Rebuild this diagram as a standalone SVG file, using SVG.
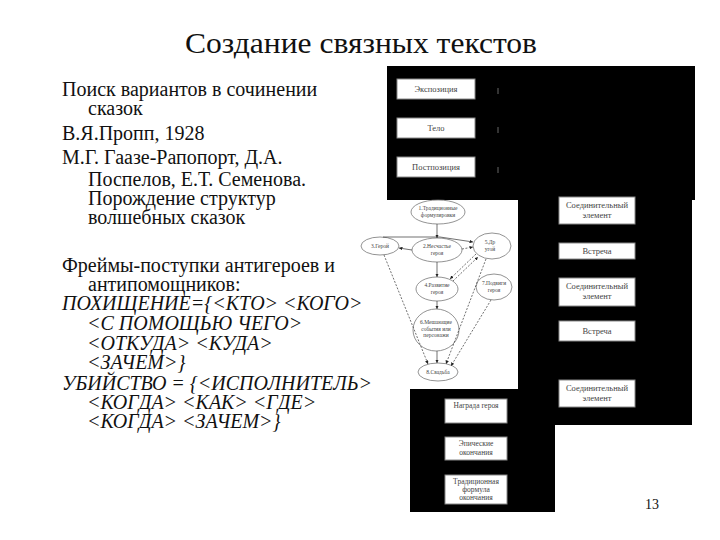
<svg xmlns="http://www.w3.org/2000/svg" width="720" height="540" viewBox="0 0 720 540">
<defs>
<style>
.t{font-family:"Liberation Serif",Tinos,"Times New Roman","DejaVu Serif",serif;fill:#111}
.title{font-size:30px}
.body{font-size:20px}
.it{font-size:20px;font-style:italic}
.blk{fill:#000}
.box{fill:#fff;stroke:#888;stroke-width:1}
.bt{font-family:"Liberation Serif",Tinos,"Times New Roman","DejaVu Serif",serif;font-size:8.5px;fill:#444;text-anchor:middle}
.bs{font-size:7.5px}
.el{fill:#fff;stroke:#777;stroke-width:0.8}
.et{font-family:"Liberation Serif",Tinos,"Times New Roman","DejaVu Serif",serif;font-size:5.5px;fill:#444;text-anchor:middle}
.c{fill:none;stroke:#333;stroke-width:0.7}
.d{fill:none;stroke:#333;stroke-width:0.7;stroke-dasharray:2 1.5}
</style>
<marker id="ah" viewBox="0 0 6 6" refX="6" refY="3" markerWidth="5" markerHeight="5" orient="auto">
<path d="M0,0 L6,3 L0,6 z" fill="#222"/>
</marker>
</defs>
<rect width="720" height="540" fill="#fff"/>
<g id="title"><text class="t title" x="185" y="53" textLength="352" lengthAdjust="spacingAndGlyphs">Создание связных текстов</text></g>
<g id="left-text">
<text class="t body" x="62" y="96">Поиск вариантов в сочинении</text>
<text class="t body" x="88" y="115">сказок</text>
<text class="t body" x="62" y="140">В.Я.Пропп, 1928</text>
<text class="t body" x="62" y="164">М.Г. Гаазе-Рапопорт, Д.А.</text>
<text class="t body" x="88" y="186">Поспелов, Е.Т. Семенова.</text>
<text class="t body" x="88" y="205">Порождение структур</text>
<text class="t body" x="88" y="224">волшебных сказок</text>
<text class="t body" x="62" y="272">Фреймы-поступки антигероев и</text>
<text class="t body" x="88" y="291">антипомощников:</text>
<text class="t it" x="62" y="310">ПОХИЩЕНИЕ={&lt;КТО&gt; &lt;КОГО&gt;</text>
<text class="t it" x="87" y="330">&lt;С ПОМОЩЬЮ ЧЕГО&gt;</text>
<text class="t it" x="87" y="350">&lt;ОТКУДА&gt; &lt;КУДА&gt;</text>
<text class="t it" x="87" y="369">&lt;ЗАЧЕМ&gt;}</text>
<text class="t it" x="62" y="390">УБИЙСТВО = {&lt;ИСПОЛНИТЕЛЬ&gt;</text>
<text class="t it" x="87" y="409">&lt;КОГДА&gt; &lt;КАК&gt; &lt;ГДЕ&gt;</text>
<text class="t it" x="87" y="428">&lt;КОГДА&gt; &lt;ЗАЧЕМ&gt;}</text>
</g>
<g id="black-panels">
<rect class="blk" x="387" y="66" width="308" height="134"/>
<rect class="blk" x="518" y="200" width="174" height="225"/>
<rect class="blk" x="410" y="389" width="145" height="123"/>
<rect x="497" y="88" width="2" height="6" fill="#333"/>
<rect x="497" y="127" width="2" height="6" fill="#333"/>
<rect x="497" y="167" width="2" height="6" fill="#333"/>
</g>
<g id="n-expo"><rect class="box" x="397" y="79" width="78" height="20"/><text class="bt" x="436" y="92">Экспозиция</text></g>
<g id="n-telo"><rect class="box" x="397" y="118" width="78" height="20"/><text class="bt" x="436" y="131">Тело</text></g>
<g id="n-post"><rect class="box" x="397" y="157" width="78" height="20"/><text class="bt" x="436" y="170">Постпозиция</text></g>
<g id="n-soed1"><rect class="box" x="559" y="197" width="76" height="27"/><text class="bt" x="597" y="208">Соединительный</text><text class="bt" x="597" y="218">элемент</text></g>
<g id="n-vstr1"><rect class="box" x="559" y="243" width="76" height="16"/><text class="bt" x="597" y="254">Встреча</text></g>
<g id="n-soed2"><rect class="box" x="559" y="278" width="76" height="28"/><text class="bt" x="597" y="289">Соединительный</text><text class="bt" x="597" y="299">элемент</text></g>
<g id="n-vstr2"><rect class="box" x="559" y="321" width="76" height="20"/><text class="bt" x="597" y="334">Встреча</text></g>
<g id="n-soed3"><rect class="box" x="559" y="380" width="76" height="27"/><text class="bt" x="597" y="391">Соединительный</text><text class="bt" x="597" y="401">элемент</text></g>
<g id="n-nagr"><rect class="box" x="445" y="399" width="62" height="24"/><text class="bt bs" x="476" y="408">Награда героя</text></g>
<g id="n-epic"><rect class="box" x="445" y="437" width="62" height="23"/><text class="bt bs" x="476" y="446">Эпические</text><text class="bt bs" x="476" y="455">окончания</text></g>
<g id="n-trad"><rect class="box" x="445" y="475" width="62" height="29"/><text class="bt bs" x="476" y="484">Традиционная</text><text class="bt bs" x="476" y="492">формула</text><text class="bt bs" x="476" y="500">окончания</text></g>
<g id="e1"><ellipse class="el" cx="438" cy="212" rx="27" ry="12"/><text class="et" x="438" y="210">1.Традиционные</text><text class="et" x="438" y="216.5">формулировки</text></g>
<g id="e2"><ellipse class="el" cx="437" cy="250" rx="25" ry="12"/><text class="et" x="437" y="248">2.Несчастье</text><text class="et" x="437" y="254.5">героя</text></g>
<g id="e3"><ellipse class="el" cx="380" cy="246" rx="19" ry="9"/><text class="et" x="380" y="248">3.Герой</text></g>
<g id="e5"><ellipse class="el" cx="492" cy="246" rx="19" ry="13"/><text class="et" x="490" y="244">5.Др</text><text class="et" x="490" y="250.5">угой</text></g>
<g id="e4"><ellipse class="el" cx="437" cy="289" rx="21" ry="12"/><text class="et" x="437" y="287">4.Развитие</text><text class="et" x="437" y="293.5">героя</text></g>
<g id="e7"><ellipse class="el" cx="494" cy="287" rx="18" ry="13"/><text class="et" x="494" y="285">7.Подвиги</text><text class="et" x="494" y="291.5">героя</text></g>
<g id="e6"><ellipse class="el" cx="436" cy="330" rx="23" ry="21"/><text class="et" x="436" y="324">6.Мешающие</text><text class="et" x="436" y="330.5">события или</text><text class="et" x="436" y="337">персонажи</text></g>
<g id="e8"><ellipse class="el" cx="438" cy="372" rx="20" ry="9"/><text class="et" x="438" y="374">8.Свадьба</text></g>
<g id="connectors">
<path class="c" d="M437,224 L437,238" marker-end="url(#ah)"/>
<path class="c" d="M412,250 L399,248" marker-end="url(#ah)"/>
<path class="c" d="M383,237 L440,237 L473,242" marker-end="url(#ah)"/>
<path class="d" d="M462,249 L473,247" marker-end="url(#ah)"/>
<path class="c" d="M437,262 L437,277" marker-end="url(#ah)"/>
<path class="d" d="M476,254 L450,279" marker-end="url(#ah)"/>
<path class="d" d="M453,281 L478,257" marker-end="url(#ah)"/>
<path class="c" d="M437,301 L437,309" marker-end="url(#ah)"/>
<path class="c" d="M437,351 L437,363" marker-end="url(#ah)"/>
<path class="d" d="M384,255 L428,364" marker-end="url(#ah)"/>
<path class="d" d="M486,259 L446,364" marker-end="url(#ah)"/>
<path class="d" d="M491,300 L451,366" marker-end="url(#ah)"/>
</g>
<g id="page"><text class="t" x="645" y="509" font-size="14">13</text></g>
</svg>
